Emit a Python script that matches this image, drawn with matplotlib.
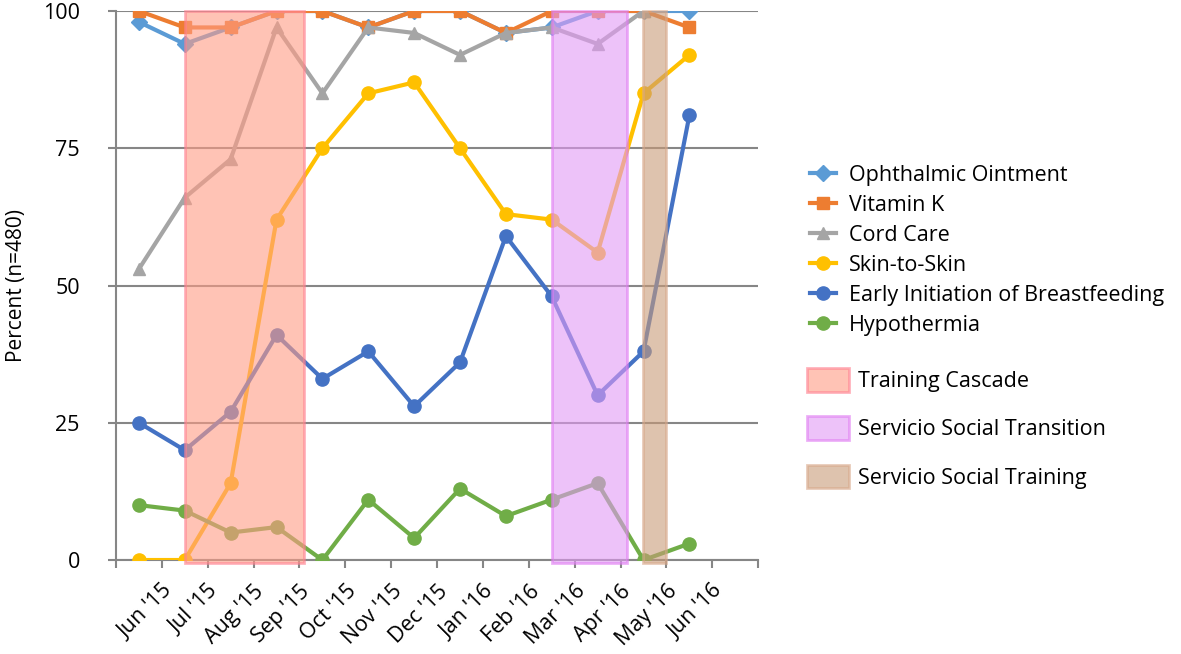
import numpy as np
import matplotlib.pyplot as plt
from matplotlib.lines import Line2D
from matplotlib.patches import Patch

plt.rcParams['font.family'] = ['Open Sans', 'DejaVu Sans']

months = ["Jun '15", "Jul '15", "Aug '15", "Sep '15", "Oct '15", "Nov '15", "Dec '15",
          "Jan '16", "Feb '16", "Mar '16", "Apr '16", "May '16", "Jun '16"]

ophthalmic = [98, 94, 97, 100, 100, 97, 100, 100, 96, 97, 100, 100, 100]
vitamin_k = [100, 97, 97, 100, 100, 97, 100, 100, 96, 100, 100, 100, 97]
cord_care = [53, 66, 73, 97, 85, 97, 96, 92, 96, 97, 94, 100, np.nan]
skin_to_skin = [0, 0, 14, 62, 75, 85, 87, 75, 63, 62, 56, 85, 92]
breastfeeding = [25, 20, 27, 41, 33, 38, 28, 36, 59, 48, 30, 38, 81]
hypothermia = [10, 9, 5, 6, 0, 11, 4, 13, 8, 11, 14, 0, 3]

# shaded periods (in month-index units)
periods = [("Training Cascade", 1.0, 3.6, '#ff9c85', '#ff8090'),
           ("Servicio Social Transition", 9.0, 10.63, '#e29af5', '#e07cf2'),
           ("Servicio Social Training", 10.98, 11.48, '#c99b78', '#d8a88a')]

fig = plt.figure(figsize=(11.81, 6.54), dpi=100)
ax = fig.add_axes([0.0982, 0.1437, 0.5438, 0.8395])

x = np.arange(len(months))
series = [("Ophthalmic Ointment", ophthalmic, '#5b9bd5', 'D', 8.5),
          ("Vitamin K", vitamin_k, '#ed7d31', 's', 8.5),
          ("Cord Care", cord_care, '#a5a5a5', '^', 8.5),
          ("Skin-to-Skin", skin_to_skin, '#ffc000', 'o', 9.5),
          ("Early Initiation of Breastfeeding", breastfeeding, '#4472c4', 'o', 9.5),
          ("Hypothermia", hypothermia, '#70ad47', 'o', 9.5)]

handles = []
for name, vals, col, mk, ms in series:
    ax.plot(x, vals, color=col, lw=3, marker=mk, ms=ms, zorder=3)
    handles.append(Line2D([], [], color=col, lw=3, marker=mk, ms=ms, label=name))

patches = []
for name, x0, x1, fc, ec in periods:
    ax.axvspan(x0, x1, ymin=-0.005, ymax=1, facecolor=fc, edgecolor=ec, alpha=0.6, lw=2,
               zorder=4, clip_on=False)
    patches.append(Patch(facecolor=fc, edgecolor=ec, alpha=0.6, lw=2, label=name))

ax.set_xlim(-0.5, 13.5)
ax.set_ylim(0, 100)
ax.set_yticks([0, 25, 50, 75, 100])
ax.grid(axis='y', color='#868686', lw=1.5, zorder=1)
ax.set_axisbelow(True)

ax.set_xticks(np.arange(-0.5, 14, 1))
ax.set_xticklabels([''] + months + [''], rotation=45, ha='right', rotation_mode='anchor')
ax.tick_params(axis='x', length=6, width=1.5, color='#868686', labelsize=15.5, pad=9)
ax.tick_params(axis='y', length=6, width=1.5, color='#868686', labelsize=15.5, pad=20)

for s in ['top', 'right']:
    ax.spines[s].set_visible(False)
for s in ['left', 'bottom']:
    ax.spines[s].set_color('#868686')
    ax.spines[s].set_linewidth(1.5)

ax.set_ylabel('Percent (n=480)', fontsize=15)
ax.yaxis.set_label_coords(-0.138, 0.5)

fig.legend(handles=handles, loc='upper left', bbox_to_anchor=(0.686, 0.748),
           frameon=False, fontsize=15.5, handlelength=1.2, labelspacing=0.42,
           handletextpad=0.6, borderpad=0, borderaxespad=0)
fig.legend(handles=patches, loc='upper left', bbox_to_anchor=(0.683, 0.437),
           frameon=False, fontsize=15.5, handlelength=1.95, handleheight=1.3,
           labelspacing=1.13, handletextpad=0.45, borderpad=0, borderaxespad=0)

fig.savefig('out.png', dpi=100)
